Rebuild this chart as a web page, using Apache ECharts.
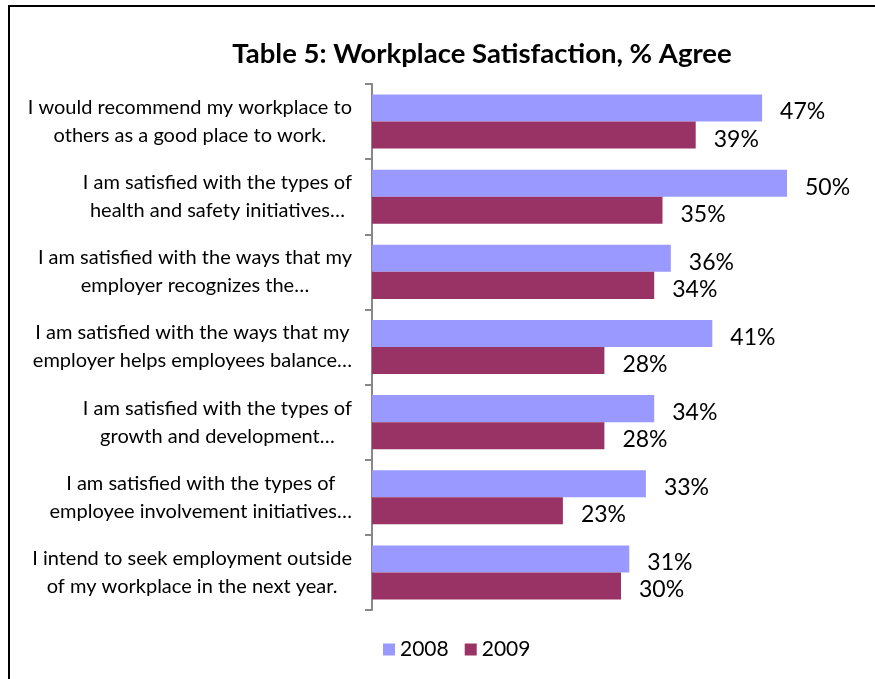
<!DOCTYPE html>
<html>
<head>
<meta charset="utf-8">
<script src="https://cdn.jsdelivr.net/npm/echarts@6/dist/echarts.min.js"></script>
<style>
html,body{margin:0;padding:0;background:#fff;}
#chart{width:875px;height:679px;}
</style>
</head>
<body>
<div id="chart"></div>
<script>
const titleText = 'Table 5: Workplace Satisfaction, % Agree';
const categories = [
  'I would recommend my workplace to\nothers as a good place to work.',
  'I am satisfied with the types of\nhealth and safety initiatives…',
  'I am satisfied with the ways that my\nemployer recognizes the…',
  'I am satisfied with the ways that my\nemployer helps employees balance…',
  'I am satisfied with the types of\ngrowth and development…',
  'I am satisfied with the types of\nemployee involvement initiatives…',
  'I intend to seek employment outside\nof my workplace in the next year.'
];
const seriesNames = ['2008', '2009'];
const values2008 = [47, 50, 36, 41, 34, 33, 31];
const values2009 = [39, 35, 34, 28, 28, 23, 30];

const FONT = 'Lato';
const chart = echarts.init(document.getElementById('chart'), null, {renderer: 'canvas'});

function barLabel() {
  return {
    show: true,
    position: 'right',
    distance: 18,
    offset: [0, 4],
    color: '#000',
    fontFamily: FONT,
    fontSize: 23,
    formatter: p => p.value + '%'
  };
}

chart.setOption({
  backgroundColor: '#fff',
  animation: false,
  title: {
    text: titleText,
    left: 477,
    textAlign: 'center',
    top: 35,
    textStyle: {fontFamily: FONT, fontWeight: 'bold', fontSize: 27.5, color: '#000'}
  },
  graphic: [{
    type: 'rect',
    shape: {x: 9, y: 6, width: 900, height: 700},
    style: {fill: 'none', stroke: '#000', lineWidth: 2},
    silent: true
  }],
  legend: {
    data: seriesNames,
    left: 378,
    top: 634,
    itemWidth: 12,
    itemHeight: 12,
    itemGap: 16,
    icon: 'rect',
    textStyle: {fontFamily: FONT, fontSize: 21, color: '#000'}
  },
  grid: {left: 372, right: 5, top: 84, bottom: 69},
  xAxis: {
    type: 'value',
    min: 0,
    max: 60,
    show: false
  },
  yAxis: {
    type: 'category',
    data: categories,
    inverse: true,
    axisLine: {show: true, lineStyle: {color: '#888', width: 2}},
    axisTick: {show: true, length: 7, lineStyle: {color: '#888', width: 2}},
    axisLabel: {
      margin: 20,
      formatter: v => v.split('\n').map(s => '{c|' + s + '}').join('\n'),
      rich: {c: {align: 'center', fontFamily: FONT, fontSize: 20, lineHeight: 28, color: '#000'}}
    }
  },
  series: [
    {name: seriesNames[0], type: 'bar', data: values2008, barGap: '0%', barCategoryGap: '28%',
     itemStyle: {color: '#9999FF'}, label: barLabel()},
    {name: seriesNames[1], type: 'bar', data: values2009, barGap: '0%', barCategoryGap: '28%',
     itemStyle: {color: '#993366'}, label: barLabel()}
  ]
});
</script>
</body>
</html>
